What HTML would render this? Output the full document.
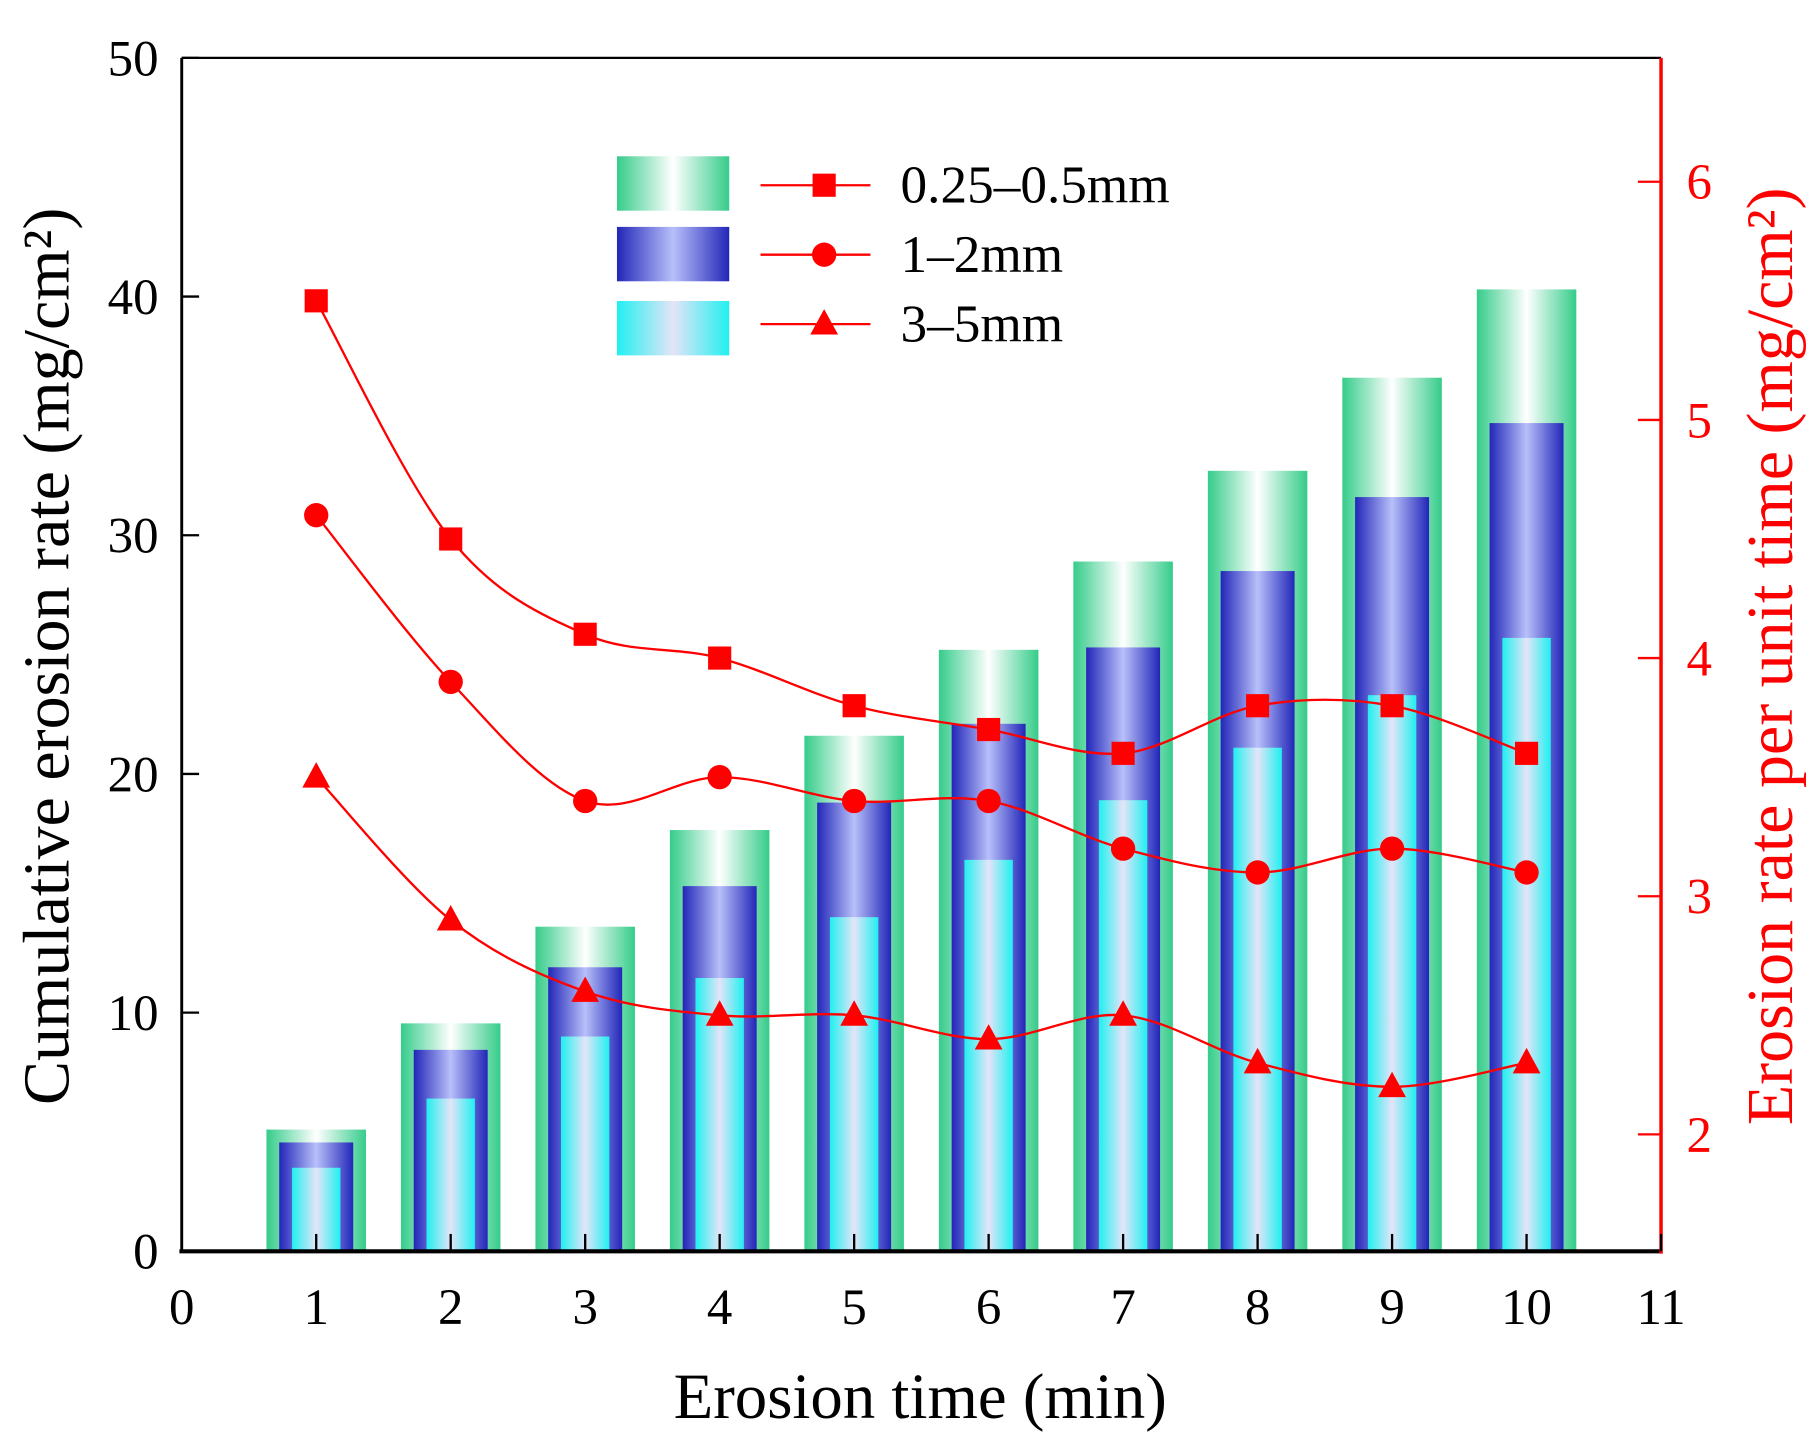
<!DOCTYPE html>
<html><head><meta charset="utf-8"><style>html,body{margin:0;padding:0;background:#fff}svg{display:block}text{font-family:"Liberation Serif",serif}</style></head>
<body>
<svg id="chart" width="1815" height="1440" viewBox="0 0 1568 1244" xmlns="http://www.w3.org/2000/svg">
<defs>
<linearGradient id="gGreen" x1="0" x2="1" y1="0" y2="0"><stop offset="0" stop-color="#35cc8a"/><stop offset="0.5" stop-color="#ffffff"/><stop offset="1" stop-color="#35cc8a"/></linearGradient>
<linearGradient id="gBlue" x1="0" x2="1" y1="0" y2="0"><stop offset="0" stop-color="#2226b8"/><stop offset="0.5" stop-color="#b8c0fa"/><stop offset="1" stop-color="#2226b8"/></linearGradient>
<linearGradient id="gCyan" x1="0" x2="1" y1="0" y2="0"><stop offset="0" stop-color="#20f0f0"/><stop offset="0.5" stop-color="#e4e4f8"/><stop offset="1" stop-color="#20f0f0"/></linearGradient>
</defs>
<g id="bars"></g><g id="lines"></g><g id="axes"></g><g id="legend"></g>
</svg>
<script>
const categories=[1,2,3,4,5,6,7,8,9,10];
const cumFine=[5.1,9.55,13.6,17.65,21.6,25.2,28.9,32.7,36.6,40.3];
const cumMid=[4.56,8.44,11.9,15.3,18.8,22.1,25.3,28.5,31.6,34.7];
const cumCoarse=[3.5,6.4,9.0,11.45,14.0,16.4,18.9,21.1,23.3,25.7];
const rateFine=[5.5,4.5,4.1,4.0,3.8,3.7,3.6,3.8,3.8,3.6];
const rateMid=[4.6,3.9,3.4,3.5,3.4,3.4,3.2,3.1,3.2,3.1];
const rateCoarse=[3.5,2.9,2.6,2.5,2.5,2.4,2.5,2.3,2.2,2.3];
const xTicks=[0,1,2,3,4,5,6,7,8,9,10,11];
const yTicks=[0,10,20,30,40,50];
const y2Ticks=[2,3,4,5,6];
const legendLabels=["0.25–0.5mm","1–2mm","3–5mm"];

const NS="http://www.w3.org/2000/svg";
const L=157,R=1435,T=50,B=1081;
const xS=v=>L+v*(R-L)/11;
const yS=v=>B-v*(B-T)/50;
const y2S=v=>157+(6-v)*205.75;
function mk(p,tag,at){const e=document.createElementNS(NS,tag);for(const k in at)e.setAttribute(k,at[k]);p.appendChild(e);return e;}
const gb=document.getElementById('bars'),gl=document.getElementById('lines'),ga=document.getElementById('axes'),gL=document.getElementById('legend');
const unit=(R-L)/11;
function bars(vals,w,fill,name){vals.forEach((v,i)=>{const x=xS(categories[i]);const r=mk(gb,'rect',{x:x-w*unit/2,y:yS(v),width:w*unit,height:B-yS(v),fill:fill});

});}
bars(cumFine,0.74,'url(#gGreen)','fine');
bars(cumMid,0.55,'url(#gBlue)','mid');
bars(cumCoarse,0.36,'url(#gCyan)','coarse');
function smooth(pts){let d=`M${pts[0][0]},${pts[0][1]}`;for(let i=0;i<pts.length-1;i++){const p0=pts[i-1]||pts[i],p1=pts[i],p2=pts[i+1],p3=pts[i+2]||p2;
d+=` C${p1[0]+(p2[0]-p0[0])/6},${p1[1]+(p2[1]-p0[1])/6} ${p2[0]-(p3[0]-p1[0])/6},${p2[1]-(p3[1]-p1[1])/6} ${p2[0]},${p2[1]}`;}return d;}
function marker(g,x,y,type){let e;if(type==='sq')e=mk(g,'rect',{x:x-10,y:y-10,width:20,height:20,fill:'#f00'});
else if(type==='ci')e=mk(g,'circle',{cx:x,cy:y,r:10.5,fill:'#f00'});
else e=mk(g,'polygon',{points:`${x},${y-13} ${x+12},${y+9} ${x-12},${y+9}`,fill:'#f00'});return e;}
function series(vals,type,name){const pts=vals.map((v,i)=>[xS(categories[i]),y2S(v)]);
const p=mk(gl,'path',{d:smooth(pts),fill:'none',stroke:'#f00','stroke-width':2});


pts.forEach((q,i)=>{const m=marker(gl,q[0],q[1],type);

});}
series(rateFine,'sq','rate-fine');series(rateMid,'ci','rate-mid');series(rateCoarse,'tr','rate-coarse');
mk(ga,'line',{x1:L,y1:T,x2:R,y2:T,stroke:'#000','stroke-width':2});
mk(ga,'line',{x1:L,y1:T,x2:L,y2:B,stroke:'#000','stroke-width':2.5});
mk(ga,'line',{x1:L-2,y1:B,x2:R,y2:B,stroke:'#000','stroke-width':3.5});
mk(ga,'line',{x1:R,y1:T,x2:R,y2:B+2,stroke:'#f00','stroke-width':3});
xTicks.forEach(v=>{const x=xS(v);mk(ga,'line',{x1:x,y1:B,x2:x,y2:B-15,stroke:'#000','stroke-width':2});
const t=mk(ga,'text',{x:x,y:B+63,'font-size':44,'text-anchor':'middle',fill:'#000'});t.textContent=v;

});
yTicks.forEach(v=>{const y=yS(v);mk(ga,'line',{x1:L,y1:y,x2:L+15,y2:y,stroke:'#000','stroke-width':2});
const t=mk(ga,'text',{x:L-20,y:y+15,'font-size':44,'text-anchor':'end',fill:'#000'});t.textContent=v;

});
y2Ticks.forEach(v=>{const y=y2S(v);mk(ga,'line',{x1:R,y1:y,x2:R-20,y2:y,stroke:'#f00','stroke-width':2});
const t=mk(ga,'text',{x:R+22,y:y+15,'font-size':44,fill:'#f00'});t.textContent=v;

});
let t=mk(ga,'text',{x:795,y:1225,'font-size':56,'text-anchor':'middle',fill:'#000'});t.textContent='Erosion time (min)';


t=mk(ga,'text',{x:0,y:0,'font-size':57,'text-anchor':'middle',fill:'#000',transform:'translate(59,567) rotate(-90)'});t.textContent='Cumulative erosion rate (mg/cm²)';


t=mk(ga,'text',{x:0,y:0,'font-size':57,'text-anchor':'middle',fill:'#f00',transform:'translate(1548,567) rotate(-90)'});t.textContent='Erosion rate per unit time (mg/cm²)';


const fills=['url(#gGreen)','url(#gBlue)','url(#gCyan)'],types=['sq','ci','tr'],boxY=[135,196,260],lineY=[160,220,280];
legendLabels.forEach((lab,i)=>{const g=mk(gL,'g',{});


mk(g,'rect',{x:533,y:boxY[i],width:97,height:47,fill:fills[i]});
mk(g,'line',{x1:657,y1:lineY[i],x2:752,y2:lineY[i],stroke:'#f00','stroke-width':2});
marker(g,712,lineY[i],types[i]);
const tx=mk(g,'text',{x:778,y:lineY[i]+15,'font-size':46,fill:'#000'});tx.textContent=lab;});
</script>
</body></html>
